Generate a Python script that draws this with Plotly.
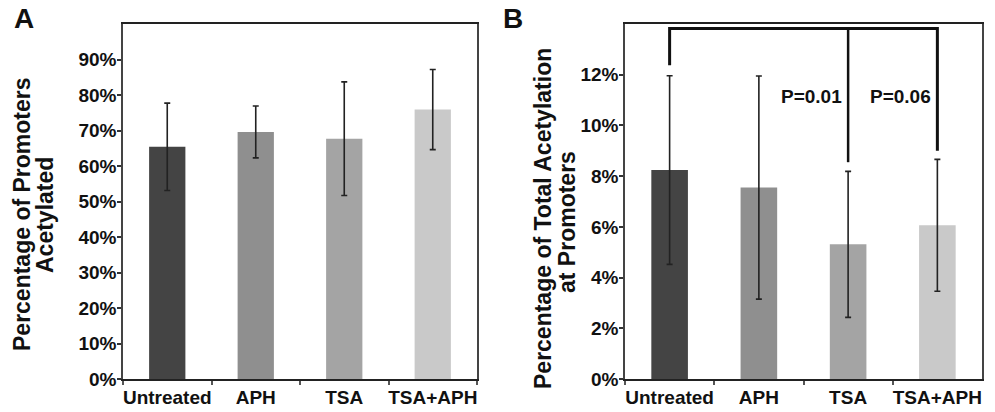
import plotly.graph_objects as go

categories = ["Untreated", "APH", "TSA", "TSA+APH"]
bar_colors = ["#444444", "#8f8f8f", "#a4a4a4", "#c9c9c9"]

# Panel A: Percentage of promoters acetylated (%)
a_values = [65.4, 69.6, 67.7, 75.9]
a_err = [12.3, 7.3, 16.0, 11.3]

# Panel B: Percentage of total acetylation at promoters (%)
b_values = [8.24, 7.55, 5.31, 6.06]
b_err = [3.72, 4.40, 2.88, 2.60]

# Significance bracket (panel B)
bracket_top = 13.82
bracket_ends = {"Untreated": 12.37, "TSA": 8.55, "TSA+APH": 9.0}
p_labels = [("TSA", "P=0.01"), ("TSA+APH", "P=0.06")]
p_label_y = 11.13

W, H = 995, 412
FONT = "Liberation Sans, Arial, Helvetica, sans-serif"

fig = go.Figure()

fig.add_trace(go.Bar(
    x=categories, y=a_values, marker=dict(color=bar_colors, line=dict(width=0)),
    error_y=dict(type="data", array=a_err, color="#222222", thickness=1.6, width=3),
    xaxis="x", yaxis="y", showlegend=False))

fig.add_trace(go.Bar(
    x=categories, y=b_values, marker=dict(color=bar_colors, line=dict(width=0)),
    error_y=dict(type="data", array=b_err, color="#222222", thickness=1.6, width=3),
    xaxis="x2", yaxis="y2", showlegend=False))

# bracket lines
fig.add_trace(go.Scatter(
    x=["Untreated", "Untreated", "TSA+APH", "TSA+APH"],
    y=[bracket_ends["Untreated"], bracket_top, bracket_top, bracket_ends["TSA+APH"]],
    mode="lines", line=dict(color="#111111", width=3),
    xaxis="x2", yaxis="y2", showlegend=False, hoverinfo="skip", cliponaxis=False))
fig.add_trace(go.Scatter(
    x=["TSA", "TSA"], y=[bracket_top, bracket_ends["TSA"]],
    mode="lines", line=dict(color="#111111", width=2.5),
    xaxis="x2", yaxis="y2", showlegend=False, hoverinfo="skip", cliponaxis=False))

tickfont = dict(family=FONT, size=19, color="#111111", weight="bold")

def xa(domain, anchor):
    return dict(domain=domain, anchor=anchor, type="category",
                categoryorder="array", categoryarray=categories,
                range=[-0.5, 3.5], showline=True, linewidth=2, linecolor="#222222",
                mirror=True, ticks="outside", tickson="boundaries", ticklen=4,
                tickwidth=1.5, tickcolor="#555555", tickfont=tickfont, tickangle=0,
                automargin=False, showgrid=False, zeroline=False)

def ya(domain, anchor, rng, tickvals):
    return dict(domain=domain, anchor=anchor, range=rng, tickvals=tickvals,
                ticktext=[f"{v}%" for v in tickvals],
                showline=True, linewidth=1.5, linecolor="#444444", mirror=True,
                ticks="outside", ticklen=4, tickwidth=1.5, tickcolor="#333333",
                ticklabelstandoff=-3,
                tickfont=tickfont, automargin=False, showgrid=False, zeroline=False)

ydom = [(H - 379) / H, (H - 24) / H]
fig.update_layout(
    width=W, height=H, margin=dict(l=0, r=0, t=0, b=0),
    paper_bgcolor="white", plot_bgcolor="white",
    bargap=0.59,
    xaxis=xa([123 / W, 477 / W], "y"),
    yaxis=ya(ydom, "x", [0, 100], list(range(0, 100, 10))),
    xaxis2=xa([625 / W, 982 / W], "y2"),
    yaxis2=ya(ydom, "x2", [0, 14], list(range(0, 14, 2))),
)

def px_ann(text, x, y, size, angle=0):
    fig.add_annotation(text=text, x=x / W, y=1 - y / H, xref="paper", yref="paper",
                       showarrow=False, textangle=angle, xanchor="center", yanchor="middle",
                       font=dict(family=FONT, size=size, color="#111111", weight="bold"))

px_ann("A", 24, 19, 28)
px_ann("B", 513, 19, 28)
px_ann("Percentage of Promoters", 22, 214, 23, -90)
px_ann("Acetylated", 45, 215, 23, -90)
px_ann("Percentage of Total Acetylation", 543, 219, 23, -90)
px_ann("at Promoters", 567, 222, 23, -90)

for cat, txt in p_labels:
    fig.add_annotation(text=txt, x=cat, y=p_label_y, xref="x2", yref="y2",
                       showarrow=False, xanchor="right", yanchor="middle", xshift=-4,
                       font=dict(family=FONT, size=19, color="#111111", weight="bold"))

fig.write_html("out.html")
